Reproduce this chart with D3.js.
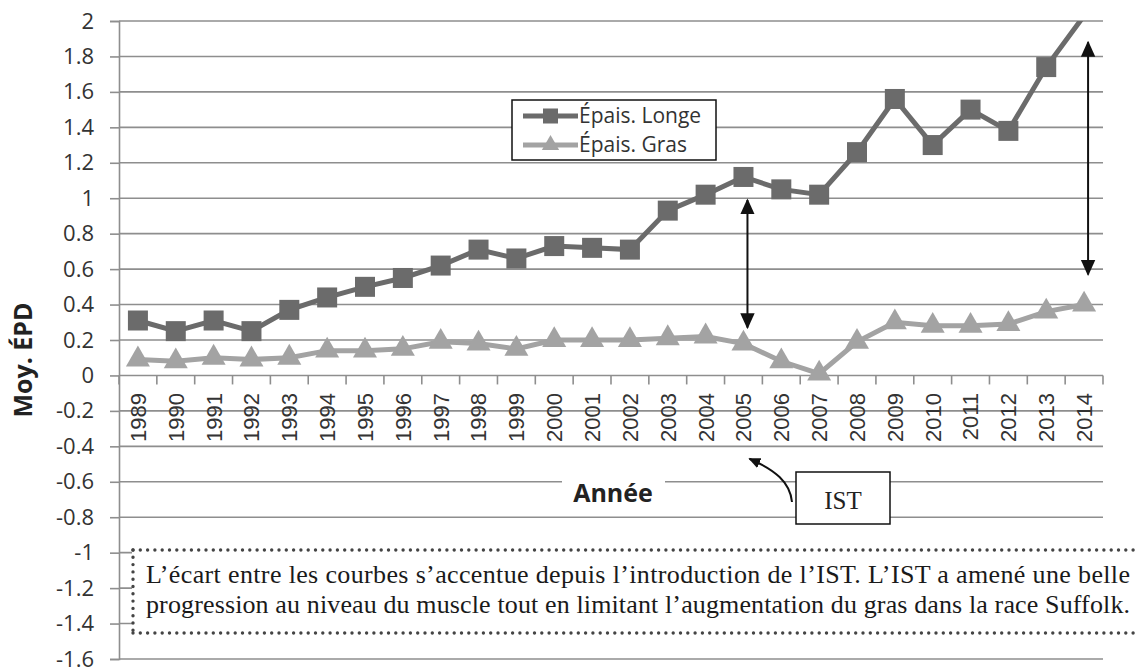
<!DOCTYPE html>
<html>
<head>
<meta charset="utf-8">
<script src="https://cdn.jsdelivr.net/npm/d3@7"></script>
<style>
  body { margin: 0; background: #fff; }
  svg { display: block; }
</style>
</head>
<body>
<div id="viz-container"></div>
<script>
// data
const years = ["1989","1990","1991","1992","1993","1994","1995","1996","1997","1998","1999","2000","2001",
  "2002","2003","2004","2005","2006","2007","2008","2009","2010","2011","2012","2013","2014"];
const longe = [0.31,0.25,0.31,0.25,0.37,0.44,0.50,0.55,0.62,0.71,0.66,0.73,0.72,
  0.71,0.93,1.02,1.12,1.05,1.02,1.26,1.56,1.30,1.50,1.38,1.74,2.03];
const gras = [0.09,0.08,0.10,0.09,0.10,0.14,0.14,0.15,0.19,0.18,0.15,0.20,0.20,
  0.20,0.21,0.22,0.18,0.08,0.01,0.19,0.30,0.28,0.28,0.29,0.36,0.40];
const yTicks = [2,1.8,1.6,1.4,1.2,1,0.8,0.6,0.4,0.2,0,-0.2,-0.4,-0.6,-0.8,-1,-1.2,-1.4,-1.6];
const seriesNames = ["Épais. Longe", "Épais. Gras"];
// double arrows showing the gap (year, top value, bottom value)
const gapYears = ["2005", "2014"];
const gapTop = [0.99, 1.88];
const gapBottom = [0.27, 0.57];
const noteLines = [
  "L’écart entre les courbes s’accentue depuis l’introduction de l’IST. L’IST a amené une belle",
  "progression au niveau du muscle tout en limitant l’augmentation du gras dans la race Suffolk."
];

const W = 1140, H = 669;
const svg = d3.select("#viz-container").append("svg")
  .attr("width", W).attr("height", H);

const x = d3.scaleBand().domain(years).range([119, 1103]);
const xc = d => x(d) + x.bandwidth() / 2;
const y = d3.scaleLinear().domain([-1.6, 2]).range([659, 21]);

const grid = "#8e8e8e";

// gridlines
svg.append("g").selectAll("line").data(yTicks).join("line")
  .attr("x1", 119).attr("x2", 1103)
  .attr("y1", d => y(d)).attr("y2", d => y(d))
  .attr("stroke", grid).attr("stroke-width", 1.6);

// y axis
const yAxis = svg.append("g").attr("transform", "translate(119,0)")
  .call(d3.axisLeft(y).tickValues(yTicks).tickSize(9).tickPadding(16).tickFormat(d => String(d)));
yAxis.select(".domain").attr("stroke", grid).attr("stroke-width", 1.6);
yAxis.selectAll(".tick line").attr("stroke", grid).attr("stroke-width", 1.6);
yAxis.selectAll(".tick text").attr("font-family", "Open Sans").attr("font-size", 22).attr("fill", "#333");

// x axis at zero, boundary ticks
const x0 = y(0);
svg.append("g").selectAll("line").data(years.concat(["end"])).join("line")
  .attr("x1", (d, i) => i < years.length ? x(d) : 1103)
  .attr("x2", (d, i) => i < years.length ? x(d) : 1103)
  .attr("y1", x0).attr("y2", x0 + 9)
  .attr("stroke", grid).attr("stroke-width", 1.6);
svg.append("g").selectAll("text").data(years).join("text")
  .attr("transform", d => `translate(${xc(d)},393) rotate(-90)`)
  .attr("text-anchor", "end").attr("dy", "0.36em")
  .attr("font-family", "Liberation Sans").attr("font-size", 22).attr("fill", "#333")
  .text(d => d);

// clip to plot area
svg.append("clipPath").attr("id", "plot")
  .append("rect").attr("x", 100).attr("y", y(2)).attr("width", 1040).attr("height", 700);

const line = d3.line().x((d, i) => xc(years[i])).y(d => y(d));

// Épais. Gras
svg.append("path").datum(gras).attr("d", line)
  .attr("fill", "none").attr("stroke", "#a3a3a3").attr("stroke-width", 5);
const tri = d3.symbol().type(d3.symbolTriangle).size(250);
svg.append("g").selectAll("path").data(gras).join("path")
  .attr("transform", (d, i) => `translate(${xc(years[i])},${y(d)})`)
  .attr("d", tri).attr("fill", "#a3a3a3");

// Épais. Longe
svg.append("path").datum(longe).attr("d", line).attr("clip-path", "url(#plot)")
  .attr("fill", "none").attr("stroke", "#6b6b6b").attr("stroke-width", 5);
svg.append("g").selectAll("rect").data(longe.map((v, i) => [years[i], v]).filter(d => d[1] <= 2)).join("rect")
  .attr("x", d => xc(d[0]) - 10).attr("y", d => y(d[1]) - 10)
  .attr("width", 20).attr("height", 20).attr("fill", "#6b6b6b");

// double arrows
const defs = svg.append("defs");
defs.append("marker").attr("id", "head").attr("viewBox", "0 0 10 10")
  .attr("refX", 9).attr("refY", 5).attr("markerWidth", 8).attr("markerHeight", 8)
  .attr("markerUnits", "strokeWidth").attr("orient", "auto-start-reverse")
  .append("path").attr("d", "M0,0.5 L10,5 L0,9.5 Z").attr("fill", "#111");
defs.append("marker").attr("id", "head2").attr("viewBox", "0 0 10 10")
  .attr("refX", 9).attr("refY", 5).attr("markerWidth", 6).attr("markerHeight", 6)
  .attr("markerUnits", "strokeWidth").attr("orient", "auto")
  .append("path").attr("d", "M0,0.5 L10,5 L0,9.5 Z").attr("fill", "#111");

svg.append("g").selectAll("line").data(gapYears).join("line")
  .attr("x1", d => xc(d) + 4).attr("x2", d => xc(d) + 4)
  .attr("y1", (d, i) => y(gapTop[i])).attr("y2", (d, i) => y(gapBottom[i]))
  .attr("stroke", "#111").attr("stroke-width", 2)
  .attr("marker-start", "url(#head)").attr("marker-end", "url(#head)");

// legend
const lg = svg.append("g").attr("transform", "translate(512,100)");
lg.append("rect").attr("width", 204).attr("height", 60)
  .attr("fill", "#fff").attr("stroke", "#111").attr("stroke-width", 1.5);
const lgColors = ["#6b6b6b", "#a3a3a3"];
seriesNames.forEach((name, i) => {
  const row = lg.append("g").attr("transform", `translate(0,${16 + i * 29})`);
  row.append("line").attr("x1", 11).attr("x2", 66).attr("y1", 0).attr("y2", 0)
    .attr("stroke", lgColors[i]).attr("stroke-width", 5);
  if (i === 0) {
    row.append("rect").attr("x", 31).attr("y", -7.5).attr("width", 15).attr("height", 15).attr("fill", lgColors[i]);
  } else {
    row.append("path").attr("transform", "translate(38.5,0)")
      .attr("d", d3.symbol().type(d3.symbolTriangle).size(130)).attr("fill", lgColors[i]);
  }
  row.append("text").attr("x", 67).attr("y", 0).attr("dy", "0.35em")
    .attr("font-family", "Open Sans").attr("font-size", 21).attr("fill", "#333")
    .text(name);
});

// axis titles
svg.append("text").attr("transform", "translate(32,360) rotate(-90)")
  .attr("text-anchor", "middle")
  .attr("font-family", "Open Sans").attr("font-weight", "bold").attr("font-size", 25).attr("fill", "#222")
  .text("Moy. ÉPD");

svg.append("rect").attr("x", 562).attr("y", y(-0.6) - 3).attr("width", 103).attr("height", 6).attr("fill", "#fff");
svg.append("text").attr("x", 613).attr("y", 502).attr("text-anchor", "middle")
  .attr("font-family", "Open Sans").attr("font-weight", "bold").attr("font-size", 25).attr("fill", "#222")
  .text("Année");

// IST callout
svg.append("path")
  .attr("d", `M792,502 C790,482 775,470 ${xc("2005") + 6},${y(-0.47)}`)
  .attr("fill", "none").attr("stroke", "#111").attr("stroke-width", 2)
  .attr("marker-end", "url(#head2)");
svg.append("rect").attr("x", 796).attr("y", 472).attr("width", 94).attr("height", 52)
  .attr("fill", "#fff").attr("stroke", "#111").attr("stroke-width", 1.5);
svg.append("text").attr("x", 843).attr("y", 509).attr("text-anchor", "middle")
  .attr("font-family", "Liberation Serif").attr("font-size", 25).attr("fill", "#222")
  .text("IST");

// note box
const nb = svg.append("g");
nb.append("rect").attr("x", 132).attr("y", 550).attr("width", 1020).attr("height", 83).attr("fill", "#fff");
const dots = (x1, y1, x2, y2) => nb.append("line")
  .attr("x1", x1).attr("y1", y1).attr("x2", x2).attr("y2", y2)
  .attr("stroke", "#444").attr("stroke-width", 3.4).attr("stroke-linecap", "round")
  .attr("stroke-dasharray", "0 7.3");
dots(133, 550, 1140, 550);
dots(133, 633, 1140, 633);
dots(133, 550, 133, 633);
nb.selectAll("text").data(noteLines).join("text")
  .attr("x", 146).attr("y", (d, i) => 583 + i * 29.5)
  .attr("textLength", 984).attr("lengthAdjust", "spacing")
  .attr("font-family", "Liberation Serif").attr("font-size", 26).attr("fill", "#1a1a1a")
  .text(d => d);
</script>
</body>
</html>
